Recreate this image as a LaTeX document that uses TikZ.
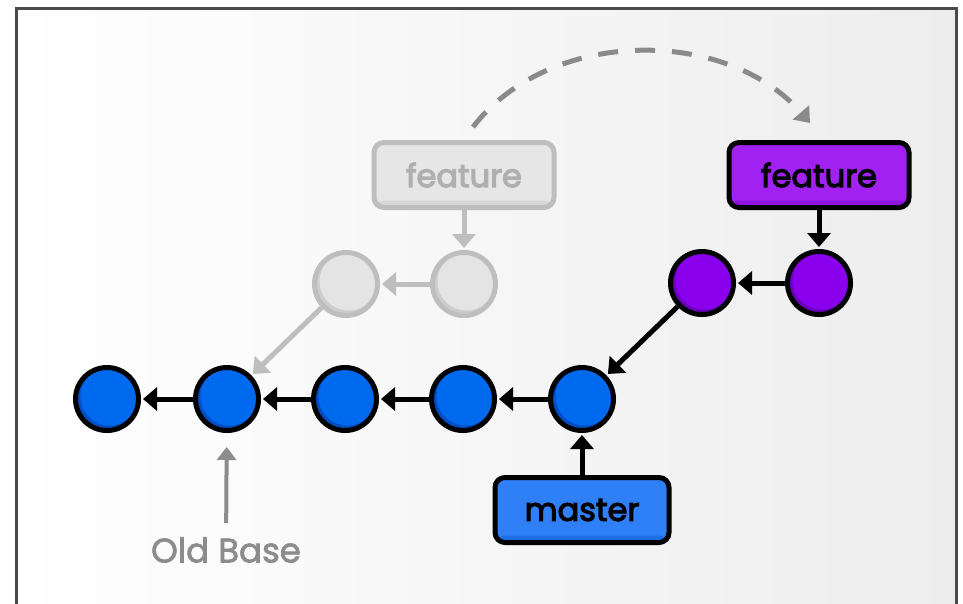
\documentclass[tikz,border=0pt]{standalone}
\usepackage{fontspec}
\setmainfont{Poppins}
\newfontfamily\boxfont{Poppins}[FakeBold=3.5]
\newfontfamily\oldfont{Poppins}[FakeBold=2]
\usetikzlibrary{arrows.meta}
\definecolor{frame}{HTML}{4A4A4A}
\definecolor{bgR}{HTML}{EDEDED}
\definecolor{blight}{HTML}{006AEE}
\definecolor{bdark}{HTML}{004EC4}
\definecolor{plight}{HTML}{8A00EC}
\definecolor{pdark}{HTML}{6C00BE}
\definecolor{glight}{HTML}{E4E4E4}
\definecolor{gdark}{HTML}{CDCDCD}
\definecolor{gline}{HTML}{BEBEBE}
\definecolor{gtext}{HTML}{AFAFAF}
\definecolor{mbox}{HTML}{2F80F7}
\definecolor{mboxd}{HTML}{1E6EE6}
\definecolor{pbox}{HTML}{A021F2}
\definecolor{pboxd}{HTML}{8E12DE}
\definecolor{gbox}{HTML}{E6E6E6}
\definecolor{gboxd}{HTML}{D6D6D6}
\definecolor{dashc}{HTML}{8A8A8A}
\definecolor{oldc}{HTML}{8C8C8C}
\begin{document}
\begin{tikzpicture}[x=1pt,y=-1pt,
  commit/.style={circle, minimum size=63pt, inner sep=0pt, line width=5pt, draw=black},
  bluec/.style={commit, fill=bdark, path picture={\fill[blight] ([xshift=2.5pt,yshift=2.5pt]path picture bounding box.center) circle (29pt);}},
  purpc/.style={commit, fill=pdark, path picture={\fill[plight] ([xshift=2.5pt,yshift=2.5pt]path picture bounding box.center) circle (29pt);}},
  ghostc/.style={commit, draw=gline, fill=gdark, path picture={\fill[glight] ([xshift=2.5pt,yshift=2.5pt]path picture bounding box.center) circle (29pt);}},
  refbox/.style={rounded corners=10pt, line width=5pt, minimum width=180pt, minimum height=65pt, inner sep=0pt,
    font=\boxfont\fontsize{32}{32}\selectfont},
  masterbox/.style={refbox, draw=black, fill=mbox, minimum width=174pt, path picture={\fill[mboxd] (path picture bounding box.south west) rectangle ([yshift=7pt]path picture bounding box.south east);}},
  featbox/.style={refbox, draw=black, fill=pbox, path picture={\fill[pboxd] (path picture bounding box.south west) rectangle ([yshift=7pt]path picture bounding box.south east);}},
  ghostbox/.style={refbox, draw=gline, fill=gbox, text=gtext, path picture={\fill[gboxd] (path picture bounding box.south west) rectangle ([yshift=7pt]path picture bounding box.south east);}},
  link/.style={line width=5pt, draw=black, -{Triangle[length=14pt,width=23pt]}, shorten >=2pt},
  glink/.style={link, draw=gline},
  oblink/.style={line width=4pt, draw=oldc, -{Triangle[length=13pt,width=19pt]}},
  arcline/.style={line width=5pt, draw=dashc, dash pattern=on 20pt off 17pt, -{Triangle[length=14pt,width=21pt]}}
]
\useasboundingbox (0,0) rectangle (963,603);
\shade[left color=white, middle color=white, right color=bgR] (16.5,8) rectangle (956.5,620);
\draw[line width=3pt, frame] (16.5,8) rectangle (956.5,620);

% ghost branch
\node[ghostbox] (gf) at (464,175) {feature};
\node[ghostc] (g1) at (346,284) {};
\node[ghostc] (g2) at (464,284) {};

% blue commits
\node[bluec] (b1) at (107,399) {};
\node[bluec] (b2) at (227,399) {};
\node[bluec] (b3) at (345,399) {};
\node[bluec] (b4) at (463,399) {};
\node[bluec] (b5) at (582,399) {};

% purple commits
\node[purpc] (p1) at (702,283) {};
\node[purpc] (p2) at (819,283) {};
\node[featbox] (pf) at (819,175) {feature};
\node[masterbox] (master) at (582,510) {master};

\node[text=oldc, font=\oldfont\fontsize{34}{34}\selectfont, inner sep=0pt] (oldbase) at (226,550) {Old Base};

% connectors
\draw[glink] (gf) -- (g2);
\draw[glink] (g2) -- (g1);
\draw[glink] (g1) -- (b2);
\draw[link] (b2) -- (b1);
\draw[link] (b3) -- (b2);
\draw[link] (b4) -- (b3);
\draw[link] (b5) -- (b4);
\draw[link] (master) -- (b5);
\draw[link] (pf) -- (p2);
\draw[link] (p2) -- (p1);
\draw[link] (p1) -- (b5);
\draw[oblink, shorten <=14pt, shorten >=14pt] (oldbase) -- (b2);

\coordinate (arcS) at (473,127);
\coordinate (arcE) at (810,123);
\draw[arcline] (arcS) .. controls (550,27) and (727,27) .. (arcE);
\end{tikzpicture}
\end{document}
